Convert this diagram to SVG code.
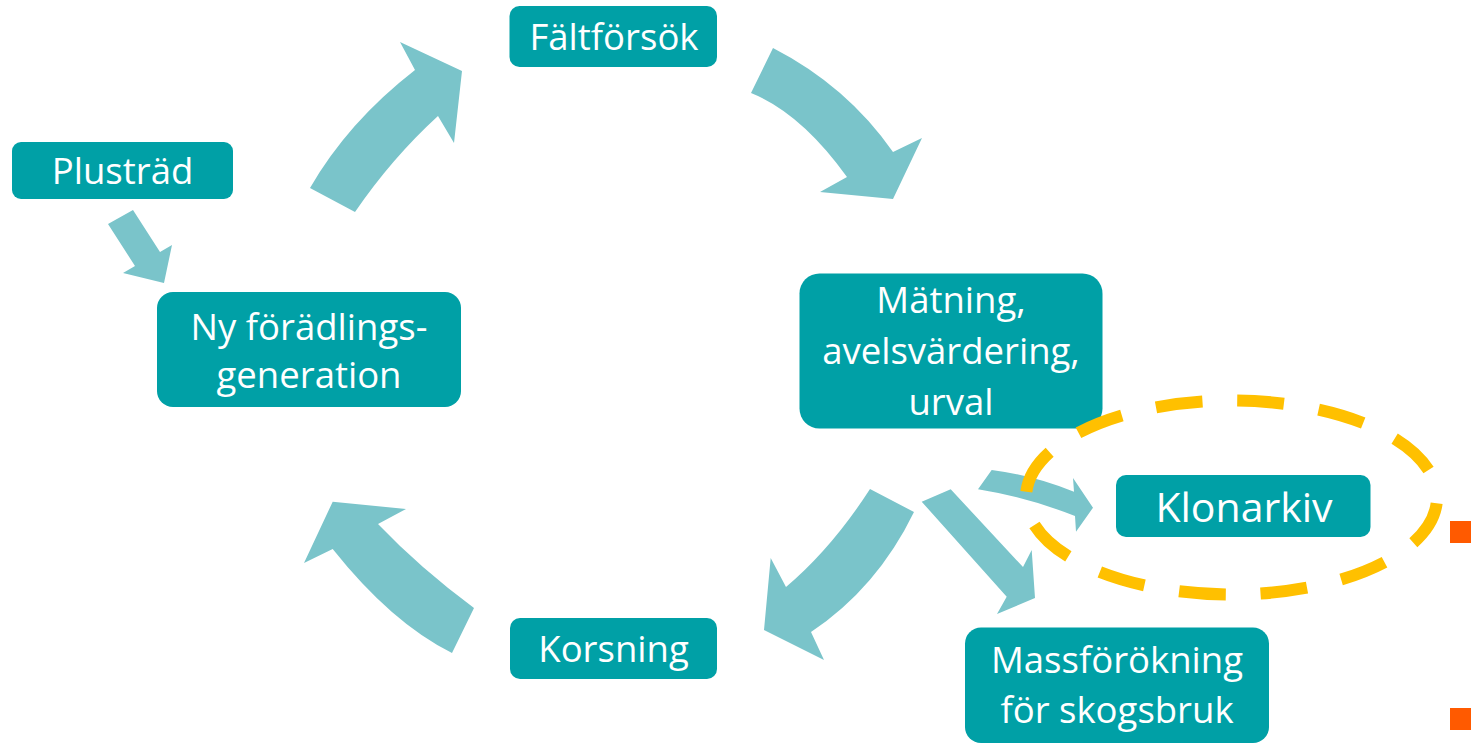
<svg xmlns="http://www.w3.org/2000/svg" width="1471" height="744" viewBox="0 0 1471 744">
<style>
.box{fill:#00A0A6}
.arr{fill:#7AC4CA}
.t{font-family:"Open Sans","Liberation Sans",sans-serif;font-size:36.5px;fill:#FFFFFF;text-anchor:middle}
</style>
<rect width="1471" height="744" fill="#FFFFFF"/>
<g id="connectors">
<polygon class="arr" points="108,224 133,210 160,252 172,245 164,283 123,273 135,266"/>
<path class="arr" d="M310,188 Q348,122 415,70 L400,42 L462,71 L454,143 L438,116 Q392,158 355,212 Z"/>
<path class="arr" d="M773,48 Q847,86 893,152 L922,138 L893,199 L820,192 L847,177 Q801,113 751,93 Z"/>
<path class="arr" d="M870,489 Q832,548 786,587 L770.7,558 L764,630 L824,660 L811,632 Q877,588 914,512 Z"/>
<path class="arr" d="M378,524 L406,509 L332.7,501.7 L304,563 L332.7,549 Q391.6,623 452,653 L474,608 Q420,568 378,524 Z"/>
<polygon class="arr" points="921.7,501.7 950.7,489.3 1023,567 1031.7,550 1035,598 997,614 1006.7,596.7"/>
<path class="arr" d="M991.7,470 Q1033,475 1074,491.7 L1073,478 L1093,507.7 L1076,531.7 L1075,516 Q1027.5,497.3 978,489.3 Z"/>
</g>
<g id="faltforsok">
<rect class="box" x="509.5" y="6" width="207.5" height="61" rx="10"/>
<text class="t" x="614" y="50">Fältförsök</text>
</g>
<g id="plustrad">
<rect class="box" x="12" y="142" width="221" height="57" rx="9"/>
<text class="t" x="122.5" y="184">Plusträd</text>
</g>
<g id="ny-foradlingsgeneration">
<rect class="box" x="157" y="292" width="304" height="115" rx="16"/>
<text class="t" x="309" y="340">Ny förädlings-</text>
<text class="t" x="309" y="388">generation</text>
</g>
<g id="matning">
<rect class="box" x="799.5" y="273.5" width="303" height="155" rx="20"/>
<text class="t" x="951" y="313">Mätning,</text>
<text class="t" x="951" y="364">avelsvärdering,</text>
<text class="t" x="951" y="415">urval</text>
</g>
<g id="korsning">
<rect class="box" x="510" y="618" width="207" height="61" rx="10"/>
<text class="t" x="613.5" y="662">Korsning</text>
</g>
<g id="massforokning">
<rect class="box" x="965" y="627.5" width="304" height="115.5" rx="16"/>
<text class="t" x="1117" y="673">Massförökning</text>
<text class="t" x="1117" y="723">för skogsbruk</text>
</g>
<g id="klonarkiv">
<rect class="box" x="1116" y="475" width="254.5" height="62" rx="10"/>
<text class="t" x="1244" y="521.5" style="font-size:41px">Klonarkiv</text>
</g>
<g id="highlight">
<ellipse cx="1231.5" cy="497.5" rx="205.5" ry="97" pathLength="1008" fill="none" stroke="#FFC000" stroke-width="12" stroke-dasharray="48 36" stroke-dashoffset="78"/>
</g>
<g id="bullets">
<rect x="1450" y="521" width="21" height="22" fill="#FF5A00"/>
<rect x="1450" y="708" width="21" height="22" fill="#FF5A00"/>
</g>
</svg>
